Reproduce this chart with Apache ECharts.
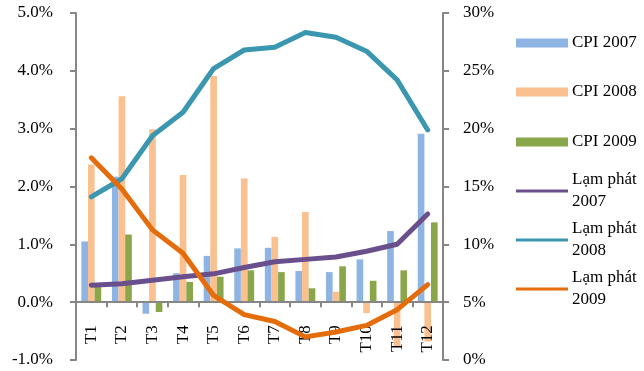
<!DOCTYPE html>
<html>
<head>
<meta charset="utf-8">
<script src="https://cdn.jsdelivr.net/npm/echarts@6/dist/echarts.min.js"></script>
<style>
  html, body { margin: 0; padding: 0; background: #fff; }
  #chart { width: 644px; height: 371px; }
</style>
</head>
<body>
<div id="chart"></div>
<script>
// Monthly CPI change (%) and year-on-year inflation (%), Vietnam 2007-2009
const months = ['T1', 'T2', 'T3', 'T4', 'T5', 'T6', 'T7', 'T8', 'T9', 'T10', 'T11', 'T12'];

const cpi2007 = [1.05, 2.17, -0.20, 0.50, 0.80, 0.93, 0.94, 0.54, 0.52, 0.74, 1.23, 2.91];
const cpi2008 = [2.38, 3.56, 2.99, 2.20, 3.91, 2.14, 1.13, 1.56, 0.18, -0.19, -0.76, -0.68];
const cpi2009 = [0.32, 1.17, -0.17, 0.35, 0.44, 0.55, 0.52, 0.24, 0.62, 0.37, 0.55, 1.38];

const inflation2007 = [6.47, 6.60, 6.90, 7.20, 7.45, 8.00, 8.50, 8.70, 8.90, 9.40, 10.01, 12.63];
const inflation2008 = [14.11, 15.67, 19.39, 21.42, 25.20, 26.80, 27.04, 28.32, 27.90, 26.70, 24.22, 19.89];
const inflation2009 = [17.48, 14.78, 11.25, 9.23, 5.58, 3.92, 3.33, 2.00, 2.42, 2.99, 4.35, 6.52];

const seriesNames = ['CPI 2007', 'CPI 2008', 'CPI 2009', 'Lạm phát 2007', 'Lạm phát 2008', 'Lạm phát 2009'];
const colors = ['#8DB4E2', '#FAC08F', '#8AA64B', '#6A4F8D', '#3A97AF', '#E46C0A'];

const font = 'Liberation Serif, Times New Roman, serif';
const axisGrey = '#868686';

// left axis range; the category axis sits on its zero line
const leftMin = -1, leftMax = 5;
const gridTop = 13, gridBottom = 11, chartHeight = 371;
const plotHeight = chartHeight - gridTop - gridBottom;
const zeroOffset = -plotHeight * (0 - leftMin) / (leftMax - leftMin);

const barLegendTops = [33, 82, 132];
const lineLegendTops = [158, 207, 256];

const legends = [];
seriesNames.forEach((name, i) => {
  const isBar = i < 3;
  legends.push({
    data: [{ name: name, icon: 'rect' }],
    left: 516,
    top: isBar ? barLegendTops[i] : lineLegendTops[i - 3],
    padding: 0,
    itemWidth: 52,
    itemHeight: isBar ? 9 : 3,
    itemGap: 0,
    selectedMode: false,
    formatter: isBar ? '{name}' : n => n.replace(' 20', '\n20'),
    textStyle: isBar
      ? { fontFamily: font, fontSize: 17, color: '#000', lineHeight: 20, padding: [0, 0, 0, -1] }
      : { fontFamily: font, fontSize: 17, color: '#000', lineHeight: 22, padding: [22, 0, 0, -1] }
  });
});

const barData = [cpi2007, cpi2008, cpi2009];
const lineData = [inflation2007, inflation2008, inflation2009];

const series = [];
barData.forEach((d, i) => {
  series.push({
    name: seriesNames[i],
    type: 'bar',
    yAxisIndex: 0,
    data: d,
    barGap: '0%',
    barCategoryGap: '35%',
    itemStyle: { color: colors[i] },
    z: 1
  });
});
lineData.forEach((d, i) => {
  series.push({
    name: seriesNames[i + 3],
    type: 'line',
    yAxisIndex: 1,
    data: d,
    symbol: 'none',
    lineStyle: { width: 5, color: colors[i + 3], cap: 'round', join: 'round' },
    itemStyle: { color: colors[i + 3] },
    z: 3 + i
  });
});

const chart = echarts.init(document.getElementById('chart'));
chart.setOption({
  animation: false,
  backgroundColor: '#fff',
  grid: { left: 76, right: 201, top: gridTop, bottom: gridBottom, containLabel: false, outerBoundsMode: 'none' },
  legend: legends,
  xAxis: {
    type: 'category',
    data: months,
    position: 'bottom',
    offset: zeroOffset,
    axisLine: { show: true, onZero: false, lineStyle: { color: axisGrey, width: 2 } },
    axisTick: { show: true, length: 5, lineStyle: { color: axisGrey, width: 2 } },
    axisLabel: { show: true, interval: 0, rotate: 90, margin: 23, fontFamily: font, fontSize: 17, color: '#000' },
    splitLine: { show: false },
    z: 2
  },
  yAxis: [
    {
      type: 'value',
      min: leftMin, max: leftMax, interval: 1,
      position: 'left',
      axisLine: { show: true, lineStyle: { color: axisGrey, width: 2 } },
      axisTick: { show: true, length: 6, lineStyle: { color: axisGrey, width: 2 } },
      axisLabel: { margin: 23, fontFamily: font, fontSize: 17, color: '#000', formatter: v => v.toFixed(1) + '%' },
      splitLine: { show: false }
    },
    {
      type: 'value',
      min: 0, max: 30, interval: 5,
      position: 'right',
      axisLine: { show: true, lineStyle: { color: axisGrey, width: 2 } },
      axisTick: { show: true, length: 6, lineStyle: { color: axisGrey, width: 2 } },
      axisLabel: { margin: 20, fontFamily: font, fontSize: 17, color: '#000', formatter: v => v + '%' },
      splitLine: { show: false }
    }
  ],
  series: series
});
</script>
</body>
</html>
